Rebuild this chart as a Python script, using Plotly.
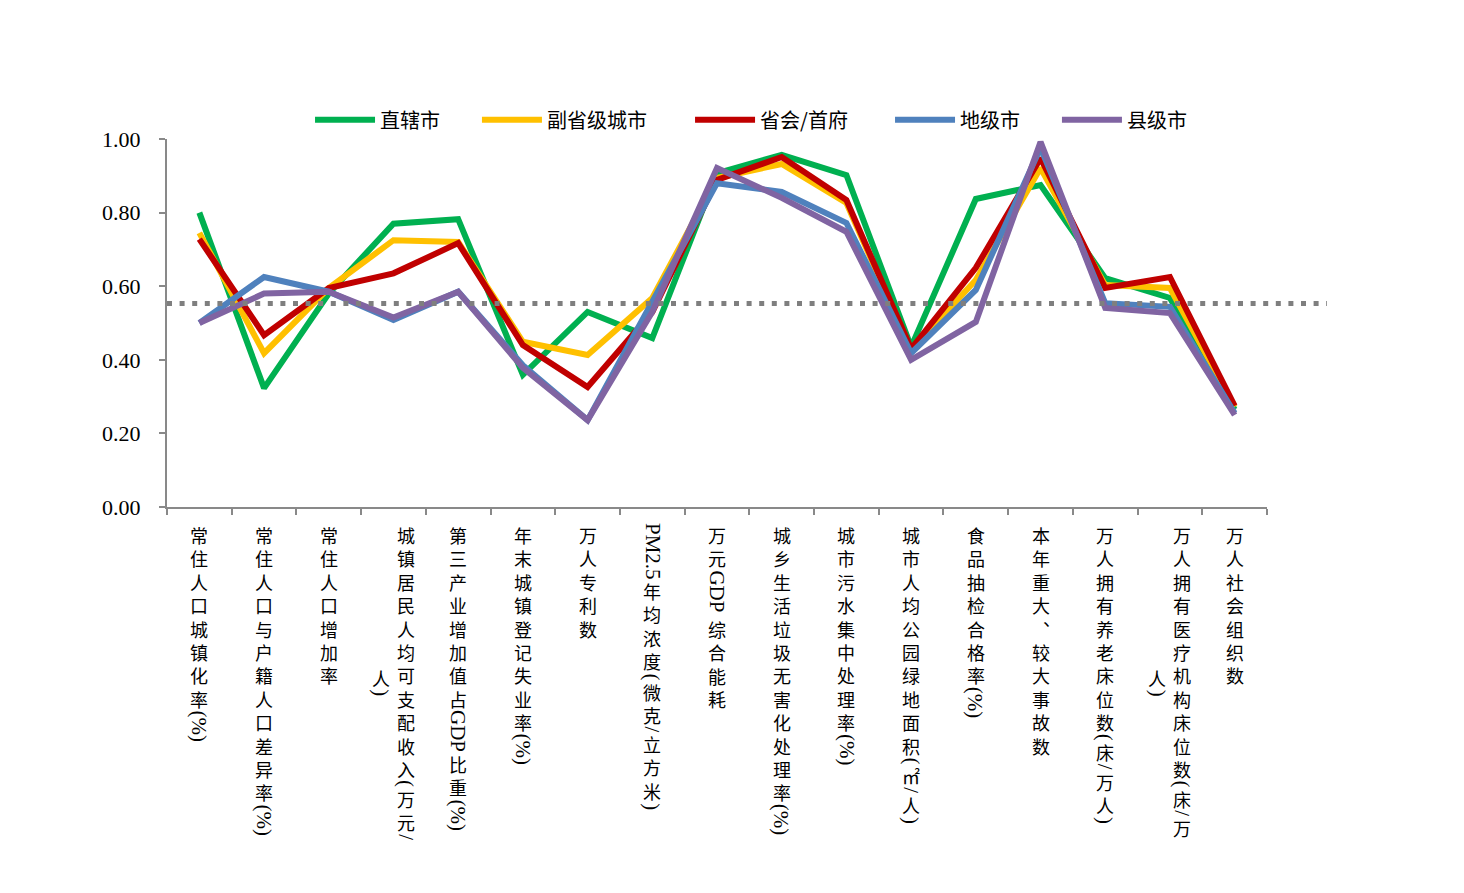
import plotly.graph_objects as go

# ---------------- data ----------------
categories = [
    "常住人口城镇化率(%)",
    "常住人口与户籍人口差异率(%)",
    "常住人口增加率",
    "城镇居民人均可支配收入(万元/人)",
    "第三产业增加值占GDP比重(%)",
    "年末城镇登记失业率(%)",
    "万人专利数",
    "PM2.5年均浓度(微克/立方米)",
    "万元GDP 综合能耗",
    "城乡生活垃圾无害化处理率(%)",
    "城市污水集中处理率(%)",
    "城市人均公园绿地面积(㎡/人)",
    "食品抽检合格率(%)",
    "本年重大、较大事故数",
    "万人拥有养老床位数(床/万人)",
    "万人拥有医疗机构床位数(床/万人)",
    "万人社会组织数",
]

series_names = ["直辖市", "副省级城市", "省会/首府", "地级市", "县级市"]

zhixiashi = [0.800, 0.323, 0.580, 0.770, 0.782, 0.359, 0.530, 0.459, 0.907, 0.957,
             0.902, 0.435, 0.837, 0.875, 0.622, 0.568, 0.265]
fushengji = [0.745, 0.418, 0.595, 0.725, 0.720, 0.449, 0.413, 0.568, 0.894, 0.932,
             0.826, 0.427, 0.617, 0.921, 0.603, 0.595, 0.272]
shenghui = [0.728, 0.467, 0.595, 0.635, 0.717, 0.440, 0.326, 0.530, 0.889, 0.951,
            0.834, 0.430, 0.650, 0.948, 0.595, 0.625, 0.275]
dijishi = [0.500, 0.625, 0.585, 0.508, 0.585, 0.385, 0.236, 0.560, 0.880, 0.856,
           0.772, 0.418, 0.590, 0.976, 0.554, 0.544, 0.255]
xianjishi = [0.500, 0.580, 0.585, 0.515, 0.585, 0.378, 0.236, 0.530, 0.921, 0.840,
             0.748, 0.400, 0.503, 0.992, 0.541, 0.527, 0.250]

average_value = 0.553

y_tick_values = [0.0, 0.2, 0.4, 0.6, 0.8, 1.0]

# ---------------- styles ----------------
series_values = [zhixiashi, fushengji, shenghui, dijishi, xianjishi]
series_colors = ["#00B050", "#FFC000", "#C00000", "#4F81BD", "#8064A2"]
legend_ids = ["legend", "legend2", "legend3", "legend4", "legend5"]
legend_x = [0.1233, 0.2672, 0.4509, 0.6233, 0.7672]
axis_color = "#898989"
CJK_FONT = "Noto Sans CJK SC"
LAT_FONT = "Liberation Serif, Times New Roman, serif"

W, H = 1464, 893
left_px, right_px, top_px, bottom_px = 167, 137, 139, 386
plot_w = W - left_px - right_px
main_domain_end = 1100 / plot_w

fig = go.Figure()
for name, vals, col, lg in zip(series_names, series_values, series_colors, legend_ids):
    fig.add_trace(go.Scatter(
        x=categories, y=vals, mode="lines", name=name, legend=lg,
        line=dict(color=col, width=6),
    ))

# dotted average line (own axis so it runs past the category axis)
fig.add_trace(go.Scatter(
    x=[0, 1], y=[average_value, average_value], xaxis="x2", yaxis="y",
    mode="lines", showlegend=False, hoverinfo="skip",
    line=dict(color="#7F7F7F", width=5, dash="5px,7.6px"),
))

# ---------------- vertical category labels ----------------
LAT_W = {'(': 0.333, ')': 0.333, '%': 0.833, '/': 0.278, 'P': 0.556, 'M': 0.889,
         '2': 0.5, '.': 0.25, '5': 0.5, 'G': 0.722, 'D': 0.722, ' ': 0.25}
CJK_SIZE = 18
CJK_PITCH = CJK_SIZE * 1.3
LAT_SIZE = 21
MAX_COL = 325
COL_PITCH = 25
TOP_PAD = 16


def tokenize(s):
    s = s.replace("、", "︑")
    toks, buf = [], ""
    for ch in s:
        if ord(ch) >= 0x2E80:
            if buf:
                toks.append(("lat", buf))
                buf = ""
            toks.append(("cjk", ch))
        else:
            buf += ch
    if buf:
        toks.append(("lat", buf))
    out = []
    for kind, t in toks:
        ln = CJK_PITCH if kind == "cjk" else sum(LAT_W.get(c, 0.5) for c in t) * LAT_SIZE
        out.append((kind, t, ln))
    return out


def group_runs(ctoks):
    runs = []
    for kind, t, ln in ctoks:
        if kind == "cjk" and runs and runs[-1][0] == "cjk":
            runs[-1] = ("cjk", runs[-1][1] + [t], runs[-1][2] + ln)
        elif kind == "cjk":
            runs.append(("cjk", [t], ln))
        else:
            runs.append(("lat", t, ln))
    return runs


annotations = []
for cat in categories:
    toks = tokenize(cat)
    cols, cur, cur_len = [], [], 0.0
    for tk in toks:
        if cur and cur_len + tk[2] > MAX_COL:
            cols.append((cur, cur_len))
            cur, cur_len = [], 0.0
        cur.append(tk)
        cur_len += tk[2]
    if cur:
        cols.append((cur, cur_len))
    maxlen = max(c[1] for c in cols)
    n = len(cols)
    for k, (ctoks, clen) in enumerate(cols):
        xshift = ((n - 1) / 2 - k) * COL_PITCH
        pos = TOP_PAD + (maxlen - clen) / 2
        for kind, t, ln in group_runs(ctoks):
            center = pos + ln / 2
            ann = dict(
                x=cat, xref="x", y=0, yref="paper", xanchor="center", yanchor="middle",
                xshift=xshift, yshift=-center, showarrow=False, borderpad=0,
            )
            if kind == "cjk":
                ann["text"] = "<br>".join(t)
                ann["font"] = dict(family=CJK_FONT, size=CJK_SIZE, color="#000000")
            else:
                ann["text"] = t
                ann["font"] = dict(family=LAT_FONT, size=LAT_SIZE, color="#000000")
                ann["textangle"] = 90
            annotations.append(ann)
            pos += ln

layout_legends = {}
for lg, lx in zip(legend_ids, legend_x):
    layout_legends[lg] = dict(
        orientation="h", x=lx, xanchor="left", y=1.052, yanchor="middle",
        font=dict(family=CJK_FONT, size=20, color="#000000"),
        itemwidth=60, bgcolor="rgba(0,0,0,0)",
    )

fig.update_layout(
    width=W, height=H,
    margin=dict(l=left_px, r=right_px, t=top_px, b=bottom_px, pad=0),
    paper_bgcolor="white", plot_bgcolor="rgba(0,0,0,0)",
    showlegend=True,
    xaxis=dict(
        domain=[0, main_domain_end], type="category", range=[-0.5, len(categories) - 0.5],
        showline=True, linecolor=axis_color, linewidth=2,
        ticks="outside", tickson="boundaries", ticklen=6, tickwidth=2, tickcolor=axis_color,
        showticklabels=False, showgrid=False, zeroline=False,
    ),
    xaxis2=dict(
        domain=[0, 1], anchor="y", range=[0, 1], visible=False,
    ),
    yaxis=dict(
        range=[0, 1], tickvals=y_tick_values, tickformat=".2f",
        showline=True, linecolor=axis_color, linewidth=2,
        ticks="outside", ticklen=6, tickwidth=2, tickcolor=axis_color,
        ticklabelstandoff=14,
        tickfont=dict(family=LAT_FONT, size=22, color="#000000"),
        showgrid=False, zeroline=False,
    ),
    annotations=annotations,
    **layout_legends,
)

fig.write_html("out.html", config={"displayModeBar": False},
               post_script="document.body.style.margin='0';")
